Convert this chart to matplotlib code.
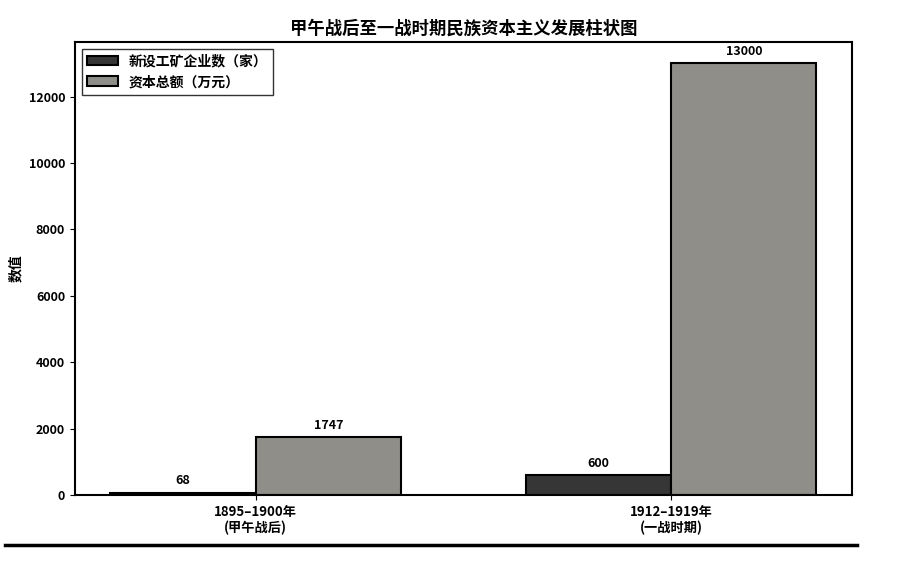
import numpy as np
import matplotlib.pyplot as plt
from matplotlib.lines import Line2D

plt.rcParams['font.family'] = ['Noto Sans CJK SC', 'DejaVu Sans']

categories = ['1895–1900年\n(甲午战后)', '1912–1919年\n(一战时期)']
enterprises = [68, 600]
capital = [1747, 13000]
series_names = ['新设工矿企业数（家）', '资本总额（万元）']

x = np.arange(len(categories))
w = 0.35

fig = plt.figure(figsize=(9.12, 5.64), dpi=100)
ax = fig.add_axes([0.082, 0.122, 0.852, 0.804])

b1 = ax.bar(x - w / 2, enterprises, w, color='#363636', edgecolor='black', linewidth=1.5, label=series_names[0])
b2 = ax.bar(x + w / 2, capital, w, color='#8f8e88', edgecolor='black', linewidth=1.5, label=series_names[1])

for bars in (b1, b2):
    for r in bars:
        ax.annotate(f'{int(r.get_height())}', (r.get_x() + r.get_width() / 2, r.get_height()),
                    xytext=(0, 4), textcoords='offset points', ha='center', va='bottom',
                    fontsize=9, fontweight='bold')

ax.set_xticks(x)
ax.set_xticklabels(categories, fontsize=9.5, fontweight='bold')
ax.tick_params(axis='y', labelsize=9)
for t in ax.get_yticklabels():
    t.set_fontweight('bold')
ax.set_ylabel('数值', fontsize=10, fontweight='bold')
ax.set_title('甲午战后至一战时期民族资本主义发展柱状图', fontsize=12.5, fontweight='bold', pad=6)
for s in ax.spines.values():
    s.set_linewidth(1.5)

leg = ax.legend(loc='upper left', prop={'weight': 'bold', 'size': 10}, fancybox=False,
                edgecolor='black', handlelength=2.2)

# bottom rule line
fig.add_artist(Line2D([0.005, 0.94], [0.033, 0.033], color='black', linewidth=2.5))

fig.savefig('out.png', dpi=100)
